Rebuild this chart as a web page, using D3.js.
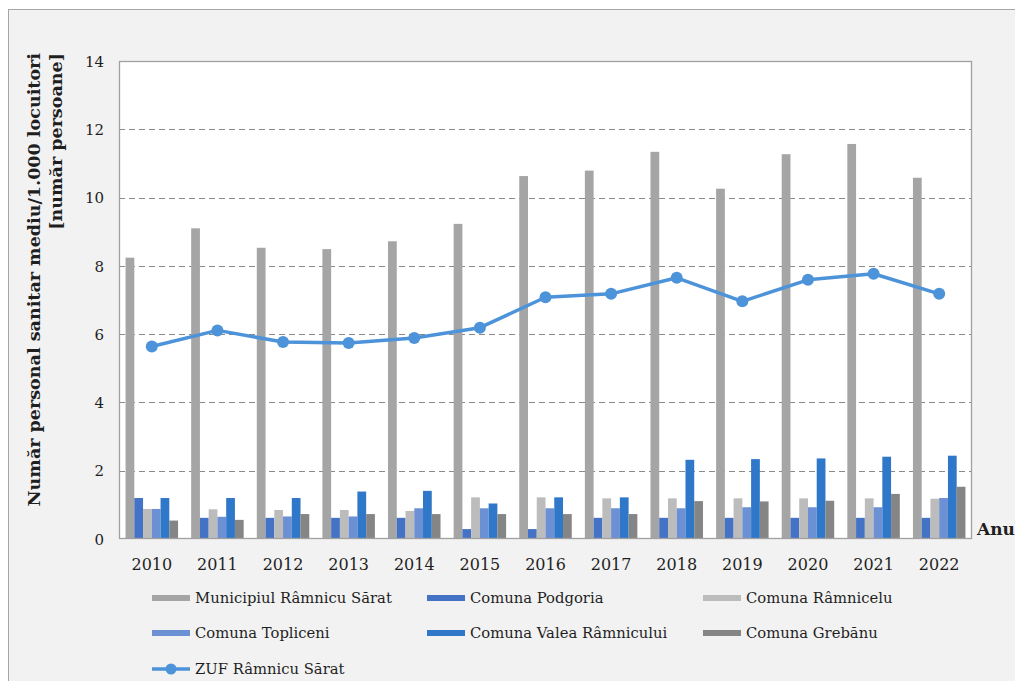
<!DOCTYPE html>
<html><head><meta charset="utf-8">
<script src="https://cdn.jsdelivr.net/npm/d3@7"></script>
<style>body{margin:0;background:#fff}svg{display:block}text{font-family:"DejaVu Serif",serif;fill:#1f1f1f}</style>
</head><body><svg id="c" width="1015" height="681"></svg>
<script>
const years = ["2010","2011","2012","2013","2014","2015","2016","2017","2018","2019","2020","2021","2022"];
const seriesNames = ["Municipiul Râmnicu Sărat","Comuna Podgoria","Comuna Râmnicelu","Comuna Topliceni","Comuna Valea Râmnicului","Comuna Grebănu"];
const municipiul = [8.24,9.10,8.53,8.49,8.72,9.23,10.63,10.79,11.34,10.26,11.27,11.57,10.58];
const podgoria   = [1.20,0.62,0.62,0.62,0.62,0.29,0.29,0.62,0.62,0.62,0.62,0.62,0.62];
const ramnicelu  = [0.88,0.87,0.85,0.85,0.82,1.22,1.22,1.19,1.19,1.19,1.19,1.19,1.18];
const topliceni  = [0.88,0.65,0.66,0.66,0.90,0.90,0.90,0.90,0.90,0.93,0.93,0.93,1.20];
const valea      = [1.20,1.20,1.20,1.39,1.41,1.04,1.22,1.22,2.32,2.34,2.36,2.41,2.44];
const grebanu    = [0.54,0.56,0.73,0.73,0.73,0.73,0.73,0.73,1.11,1.10,1.12,1.32,1.53];
const zuf        = [5.64,6.11,5.77,5.74,5.89,6.19,7.08,7.18,7.65,6.96,7.59,7.77,7.18];
const lineName = "ZUF Râmnicu Sărat";
const yTicks = [0,2,4,6,8,10,12,14];

const barSeries = [municipiul,podgoria,ramnicelu,topliceni,valea,grebanu];
const colors = ["#a5a5a5","#4472c4","#bcbcbc","#6b90d3","#2f78c9","#858585"];
const lineColor = "#4d93d9";

const svg = d3.select("#c");
svg.append("rect").attr("width",1015).attr("height",681).attr("fill","#fff");
svg.append("rect").attr("x",8.5).attr("y",9.5).attr("width",1100).attr("height",800)
  .attr("fill","#f2f2f2").attr("stroke","#a6a6a6");

const L=119, R=972, T=61, B=539;
const y = d3.scaleLinear().domain([0,14]).range([B,T]);
const x0 = d3.scaleBand().domain(years).range([L,R]).paddingInner(0.2).paddingOuter(0.1);
const x1 = d3.scaleBand().domain(d3.range(barSeries.length)).range([0,x0.bandwidth()]);

svg.append("rect").attr("x",L).attr("y",T).attr("width",R-L).attr("height",B-T).attr("fill","#fff");

// grid
svg.append("g").selectAll("line").data(yTicks.filter(t=>t>0&&t<14)).join("line")
  .attr("x1",L).attr("x2",R).attr("y1",d=>Math.round(y(d))+0.5).attr("y2",d=>Math.round(y(d))+0.5)
  .attr("stroke","#8a8a8a").attr("stroke-width",1.2).attr("stroke-dasharray","6,4");

// bars
const g = svg.append("g");
years.forEach((yr,i)=>{
  barSeries.forEach((s,j)=>{
    g.append("rect").attr("x",x0(yr)+x1(j)).attr("width",x1.bandwidth())
      .attr("y",y(s[i])).attr("height",B-y(s[i])).attr("fill",colors[j]);
  });
});

// border
svg.append("rect").attr("x",L+0.5).attr("y",T+0.5).attr("width",R-L-1).attr("height",B-T-1)
  .attr("fill","none").attr("stroke","#a0a0a0").attr("stroke-width",1.3);

// line
const cx = d=>x0(d)+x0.bandwidth()/2;
svg.append("path").datum(zuf).attr("fill","none").attr("stroke",lineColor).attr("stroke-width",3.5)
  .attr("stroke-linejoin","round")
  .attr("d",d3.line().x((d,i)=>cx(years[i])).y(d=>y(d)));
svg.append("g").selectAll("circle").data(zuf).join("circle")
  .attr("cx",(d,i)=>cx(years[i])).attr("cy",d=>y(d)).attr("r",6).attr("fill",lineColor);

// y axis
const yAxis = d3.axisLeft(y).tickValues(yTicks).tickSize(0).tickPadding(0).tickFormat(d3.format("d"));
const ya = svg.append("g").attr("transform",`translate(104,0)`).call(yAxis);
ya.select(".domain").remove();
ya.selectAll("text").attr("font-family","DejaVu Serif").attr("font-size",15).attr("fill","#2a2a2a").attr("dy","0.35em");

// x axis
const xAxis = d3.axisBottom(x0).tickSize(0).tickPadding(0);
const xa = svg.append("g").attr("transform",`translate(0,${B})`).call(xAxis);
xa.select(".domain").remove();
xa.selectAll("text").attr("font-family","DejaVu Serif").attr("font-size",16).attr("fill","#1a1a1a").attr("y",31).attr("dy",0);

function fit(sel, w){
  const n = sel.node(); let fs = +sel.attr("font-size");
  const len = n.getComputedTextLength();
  if(len>0) sel.attr("font-size", (fs*w/len).toFixed(2));
  return +sel.attr("font-size");
}

// y title
const t1 = svg.append("text").attr("transform","translate(40,53) rotate(-90)").attr("text-anchor","end")
  .attr("font-weight","bold").attr("font-size",14).text("Număr personal sanitar mediu/1.000 locuitori");
const tfs = fit(t1,454);
svg.append("text").attr("transform","translate(62,53) rotate(-90)").attr("text-anchor","end")
  .attr("font-weight","bold").attr("font-size",tfs).text("[număr persoane]");

// x title
svg.append("text").attr("x",977).attr("y",535).attr("font-weight","bold").attr("font-size",17).text("Anul");

// legend
const legItems = seriesNames.map((n,i)=>({name:n,color:colors[i],type:"bar"})).concat([{name:lineName,color:lineColor,type:"line"}]);
const colX=[152,427,703], rowY=[598,633,669];
let lfs = 13.5;
legItems.forEach((d,i)=>{
  const lx=colX[i%3], ly=rowY[Math.floor(i/3)];
  const lg=svg.append("g");
  if(d.type==="bar"){
    lg.append("rect").attr("x",lx).attr("y",ly-3).attr("width",38).attr("height",6).attr("fill",d.color);
  } else {
    lg.append("line").attr("x1",lx).attr("x2",lx+38).attr("y1",ly).attr("y2",ly).attr("stroke",d.color).attr("stroke-width",3.5);
    lg.append("circle").attr("cx",lx+19).attr("cy",ly).attr("r",5.5).attr("fill",d.color);
  }
  const tx=lg.append("text").attr("x",lx+43).attr("y",ly+5).attr("font-size",lfs).text(d.name);
  if(i===0) lfs = fit(tx,197);
});
</script></body></html>
